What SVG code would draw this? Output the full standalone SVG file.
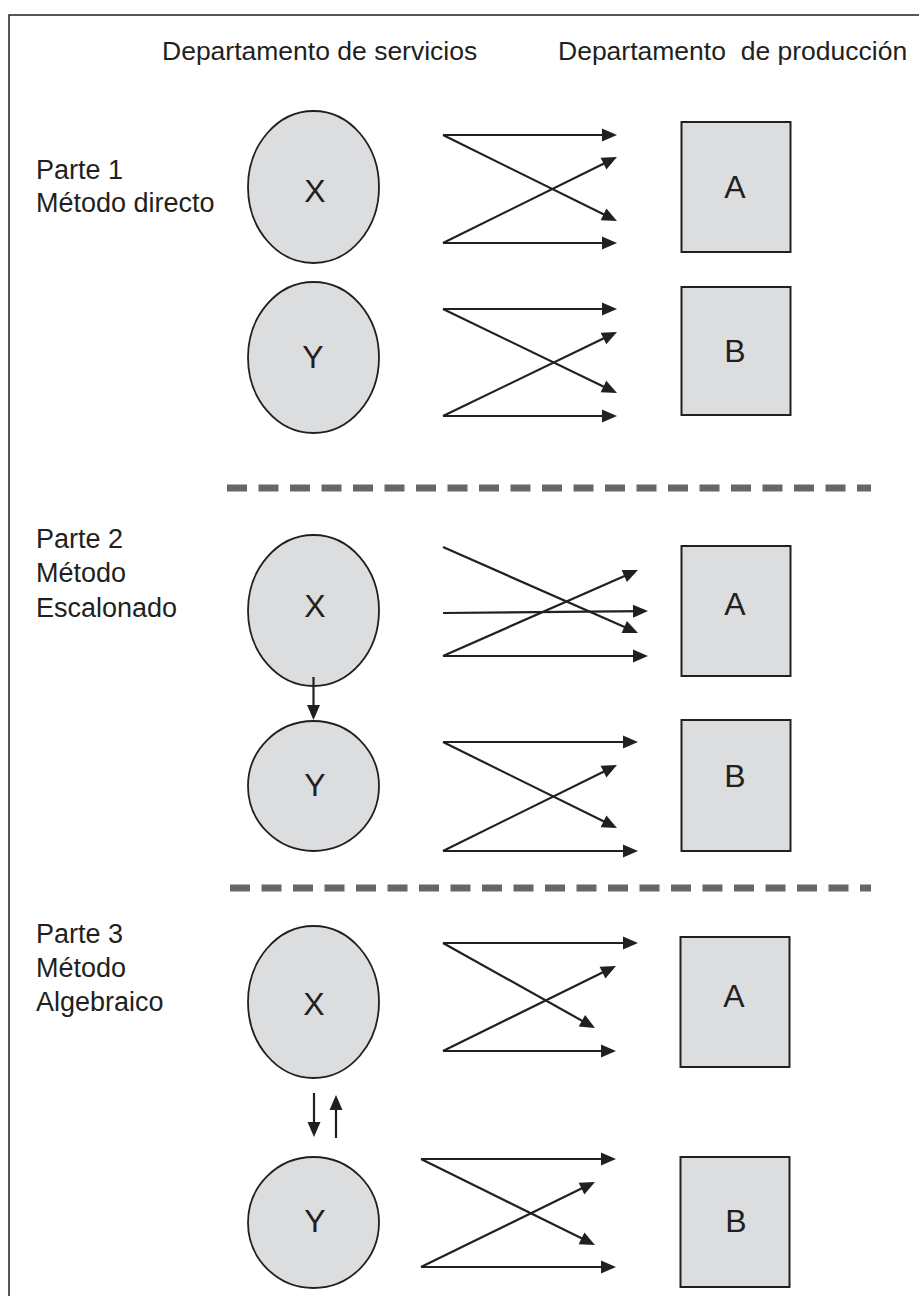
<svg xmlns="http://www.w3.org/2000/svg" width="919" height="1296" viewBox="0 0 919 1296">
  <style>
    .frame { fill: none; stroke: #231f20; stroke-width: 1.5; }
    .svc { fill: #dcdddf; stroke: #231f20; stroke-width: 1.8; }
    .prod { fill: #dcdddf; stroke: #231f20; stroke-width: 2; }
    .lbl { font-family: "Liberation Sans", Arial, sans-serif; fill: #231f20; }
    .head { font-size: 26.5px; }
    .part { font-size: 27px; }
    .node { font-size: 32px; text-anchor: middle; }
    .sep { stroke: #666666; stroke-width: 7; stroke-dasharray: 20 11.5; fill: none; }
    .conn line { stroke: #231f20; stroke-width: 2.2; marker-end: url(#arrow); }
  </style>
  <defs>
    <marker id="arrow" markerUnits="userSpaceOnUse" markerWidth="15" markerHeight="13" refX="9" refY="6.5" orient="auto" overflow="visible">
      <path d="M0,0 L15,6.5 L0,13 Z" fill="#231f20"/>
    </marker>
  </defs>

  <rect width="919" height="1296" fill="#ffffff"/>
  <path class="frame" d="M9,1296 V15 H919"/>

  <!-- column headings -->
  <text class="lbl head" x="162" y="60">Departamento de servicios</text>
  <text class="lbl head" x="558" y="60" xml:space="preserve">Departamento  de producción</text>

  <!-- section captions -->
  <g id="caption-1">
    <text class="lbl part" x="36" y="179">Parte 1</text>
    <text class="lbl part" x="36" y="212">Método directo</text>
  </g>
  <g id="caption-2">
    <text class="lbl part" x="36" y="548">Parte 2</text>
    <text class="lbl part" x="36" y="582">Método</text>
    <text class="lbl part" x="36" y="617">Escalonado</text>
  </g>
  <g id="caption-3">
    <text class="lbl part" x="36" y="943">Parte 3</text>
    <text class="lbl part" x="36" y="977">Método</text>
    <text class="lbl part" x="36" y="1011">Algebraico</text>
  </g>

  <!-- section separators -->
  <line class="sep" x1="227" y1="488" x2="871" y2="488"/>
  <line class="sep" x1="230" y1="888" x2="871" y2="888"/>

  <!-- Parte 1 nodes -->
  <g id="p1-x">
    <ellipse class="svc" cx="313.5" cy="187" rx="65.5" ry="76"/>
    <text class="lbl node" x="315" y="202">X</text>
  </g>
  <g id="p1-y">
    <ellipse class="svc" cx="313.5" cy="357.5" rx="65.5" ry="75.5"/>
    <text class="lbl node" x="313" y="368">Y</text>
  </g>
  <g id="p1-a">
    <rect class="prod" x="681.5" y="122" width="109" height="130"/>
    <text class="lbl node" x="735" y="198">A</text>
  </g>
  <g id="p1-b">
    <rect class="prod" x="681.5" y="287" width="109" height="128"/>
    <text class="lbl node" x="735" y="362">B</text>
  </g>

  <!-- Parte 2 nodes -->
  <g id="p2-x">
    <ellipse class="svc" cx="313.5" cy="610.5" rx="65.5" ry="75.5"/>
    <text class="lbl node" x="315" y="617">X</text>
  </g>
  <g id="p2-y">
    <ellipse class="svc" cx="313.5" cy="786" rx="65.5" ry="65"/>
    <text class="lbl node" x="315" y="796">Y</text>
  </g>
  <g id="p2-a">
    <rect class="prod" x="681.5" y="546" width="109" height="130"/>
    <text class="lbl node" x="735" y="615">A</text>
  </g>
  <g id="p2-b">
    <rect class="prod" x="681.5" y="720" width="109" height="131"/>
    <text class="lbl node" x="735" y="787">B</text>
  </g>

  <!-- Parte 3 nodes -->
  <g id="p3-x">
    <ellipse class="svc" cx="313.5" cy="1002" rx="65.5" ry="76"/>
    <text class="lbl node" x="314" y="1015">X</text>
  </g>
  <g id="p3-y">
    <ellipse class="svc" cx="313.5" cy="1222.5" rx="65.5" ry="65.5"/>
    <text class="lbl node" x="315" y="1232">Y</text>
  </g>
  <g id="p3-a">
    <rect class="prod" x="680.5" y="937" width="109" height="130"/>
    <text class="lbl node" x="734" y="1007">A</text>
  </g>
  <g id="p3-b">
    <rect class="prod" x="680.5" y="1157" width="109" height="130"/>
    <text class="lbl node" x="736" y="1232">B</text>
  </g>

  <!-- cost allocation flows -->
  <g id="connectors" class="conn">
    <!-- Parte 1 -->
    <line x1="443" y1="135" x2="611" y2="135"/>
    <line x1="443" y1="135" x2="611.6" y2="218.3"/>
    <line x1="443" y1="243" x2="611" y2="243"/>
    <line x1="443" y1="243" x2="611.6" y2="159.7"/>
    <line x1="443" y1="309" x2="611" y2="309"/>
    <line x1="443" y1="309" x2="611.6" y2="390.4"/>
    <line x1="443" y1="416" x2="611" y2="416"/>
    <line x1="443" y1="416" x2="611.6" y2="334.6"/>

    <!-- Parte 2 -->
    <line x1="443" y1="547" x2="632.5" y2="630.6"/>
    <line x1="443" y1="613" x2="642" y2="611.1"/>
    <line x1="443" y1="656" x2="632.5" y2="572.4"/>
    <line x1="443" y1="656" x2="642" y2="656"/>
    <line x1="313.5" y1="677" x2="313.5" y2="714"/>
    <line x1="443" y1="742" x2="632" y2="742"/>
    <line x1="443" y1="742" x2="611.6" y2="825.3"/>
    <line x1="443" y1="851" x2="632" y2="851"/>
    <line x1="443" y1="851" x2="611.6" y2="767.7"/>

    <!-- Parte 3 -->
    <line x1="443" y1="943" x2="632" y2="943"/>
    <line x1="443" y1="943" x2="589.8" y2="1025.1"/>
    <line x1="443" y1="1051" x2="610" y2="1051"/>
    <line x1="443" y1="1051" x2="610.6" y2="968.6"/>
    <line x1="314" y1="1093" x2="314" y2="1131"/>
    <line x1="336" y1="1138" x2="336" y2="1101"/>
    <line x1="421" y1="1159" x2="610" y2="1159"/>
    <line x1="421" y1="1159" x2="589.6" y2="1242.3"/>
    <line x1="421" y1="1267" x2="610" y2="1267"/>
    <line x1="421" y1="1267" x2="589.6" y2="1184.6"/>
  </g>
</svg>
